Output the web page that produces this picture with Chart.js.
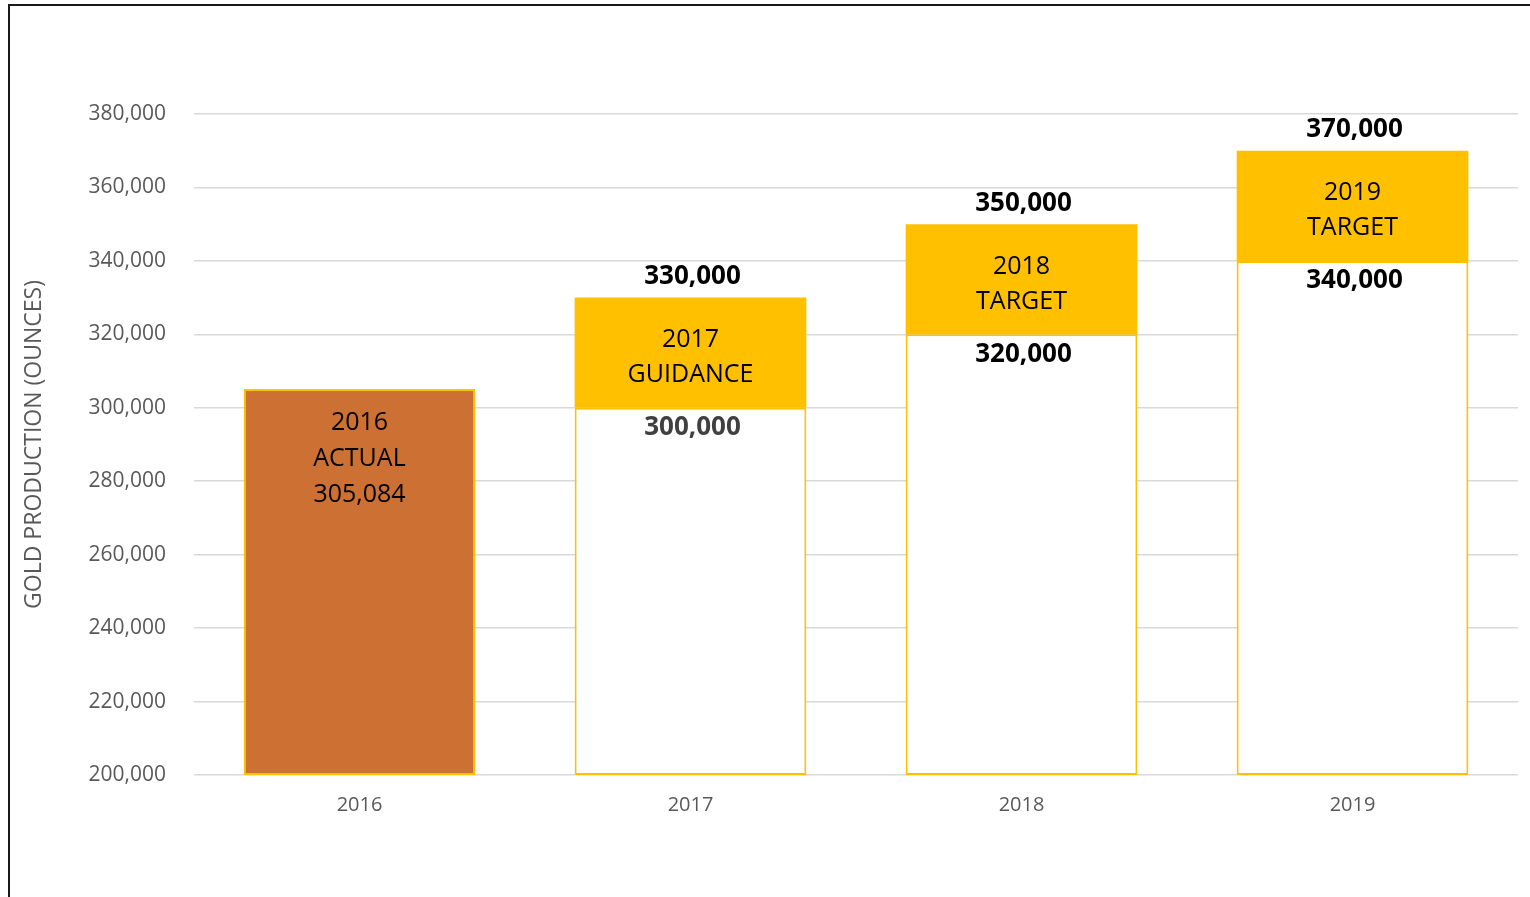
<!DOCTYPE html>
<html>
<head>
<meta charset="utf-8">
<script src="https://cdn.jsdelivr.net/npm/chart.js@4.4.0/dist/chart.umd.min.js"></script>
<style>
    html, body { margin: 0; padding: 0; background: #fff; overflow: hidden; }
    #wrap { position: relative; width: 1530px; height: 897px; }
    #frame { position: absolute; left: 8px; top: 4px; width: 1540px; height: 920px;
             border-top: 2px solid #1a1a1a; border-left: 2px solid #1a1a1a; }
    canvas { position: absolute; left: 0; top: 0; }
</style>
</head>
<body>
<div id="wrap">
    <div id="frame"></div>
    <canvas id="goldChart" width="1530" height="897"></canvas>
</div>
<script>
// chart data
const years = ['2016', '2017', '2018', '2019'];
const actual = [305084, null, null, null];
const lowEnd = [null, 300000, 320000, 340000];
const highEnd = [null, 330000, 350000, 370000];
const boxLabels = [['2016', 'ACTUAL', '305,084'], ['2017', 'GUIDANCE'], ['2018', 'TARGET'], ['2019', 'TARGET']];
const lowLabels = ['', '300,000', '320,000', '340,000'];
const highLabels = ['', '330,000', '350,000', '370,000'];
const yMin = 200000;
const yMax = 380000;
const yStep = 20000;

const FONT = "'Open Sans', sans-serif";
const GOLD = '#FFC000';
const ORANGE = '#CD7034';

// floating bars built from the arrays above
const actualBars = actual.map(v => v == null ? null : [yMin, v]);
const baseBars = lowEnd.map(v => v == null ? null : [yMin, v]);
const rangeBars = lowEnd.map((v, i) => v == null ? null : [v, highEnd[i]]);

// draws the text on and above the bars
const barText = {
    id: 'barText',
    afterDatasetsDraw(chart) {
        const ctx = chart.ctx;
        const xs = chart.scales.x, ys = chart.scales.y;
        ctx.save();
        ctx.textAlign = 'center';
        ctx.textBaseline = 'middle';
        years.forEach((yr, i) => {
            const x = xs.getPixelForValue(i);
            if (actual[i] != null) {
                const top = ys.getPixelForValue(actual[i]);
                ctx.font = '25px ' + FONT;
                ctx.fillStyle = '#000';
                boxLabels[i].forEach((t, k) => ctx.fillText(t, x, top + 34 + k * 36));
                return;
            }
            const yLow = ys.getPixelForValue(lowEnd[i]);
            const yHigh = ys.getPixelForValue(highEnd[i]);
            ctx.font = 'bold 26px ' + FONT;
            ctx.fillStyle = '#000';
            ctx.fillText(highLabels[i], x + 2, yHigh - 21);
            ctx.fillStyle = i == 1 ? '#404040' : '#000';
            ctx.fillText(lowLabels[i], x + 2, yLow + 20);
            ctx.font = '25px ' + FONT;
            ctx.fillStyle = '#000';
            const mid = (yLow + yHigh) / 2 + 5;
            const lines = boxLabels[i];
            lines.forEach((t, k) => ctx.fillText(t, x, mid + (k - (lines.length - 1) / 2) * 35));
        });
        ctx.restore();
    }
};

const ctx = document.getElementById('goldChart').getContext('2d');
const goldChart = new Chart(ctx, {
    type: 'bar',
    data: {
        labels: years,
        datasets: [
            {
                label: 'Actual',
                data: actualBars,
                backgroundColor: ORANGE,
                borderColor: GOLD,
                borderWidth: 2,
                borderSkipped: false
            },
            {
                label: 'Low',
                data: baseBars,
                backgroundColor: '#FFFFFF',
                borderColor: GOLD,
                borderWidth: 2,
                borderSkipped: false
            },
            {
                label: 'Range',
                data: rangeBars,
                backgroundColor: GOLD,
                borderColor: GOLD,
                borderWidth: 0
            }
        ]
    },
    options: {
        responsive: false,
        animation: false,
        barPercentage: 0.7,
        categoryPercentage: 1,
        layout: { padding: { left: 14, right: 12, top: 114, bottom: 70 } },
        plugins: {
            legend: { display: false },
            tooltip: { enabled: false }
        },
        scales: {
            x: {
                stacked: true,
                grid: { display: false },
                border: { display: false },
                ticks: { color: '#595959', font: { family: FONT, size: 20 }, padding: 10 }
            },
            y: {
                stacked: false,
                min: yMin,
                max: yMax,
                grid: { color: '#D9D9D9', lineWidth: 1.5, drawTicks: false },
                border: { display: false },
                ticks: {
                    stepSize: yStep,
                    padding: 28,
                    color: '#595959',
                    font: { family: FONT, size: 21 },
                    callback: v => v.toLocaleString('en-US')
                },
                title: {
                    display: true,
                    text: 'GOLD PRODUCTION (OUNCES)',
                    color: '#595959',
                    font: { family: FONT, size: 23 },
                    padding: { top: 7, bottom: 0 }
                },
                afterFit: scale => { scale.width = 180; }
            }
        }
    },
    plugins: [barText]
});
</script>
</body>
</html>
